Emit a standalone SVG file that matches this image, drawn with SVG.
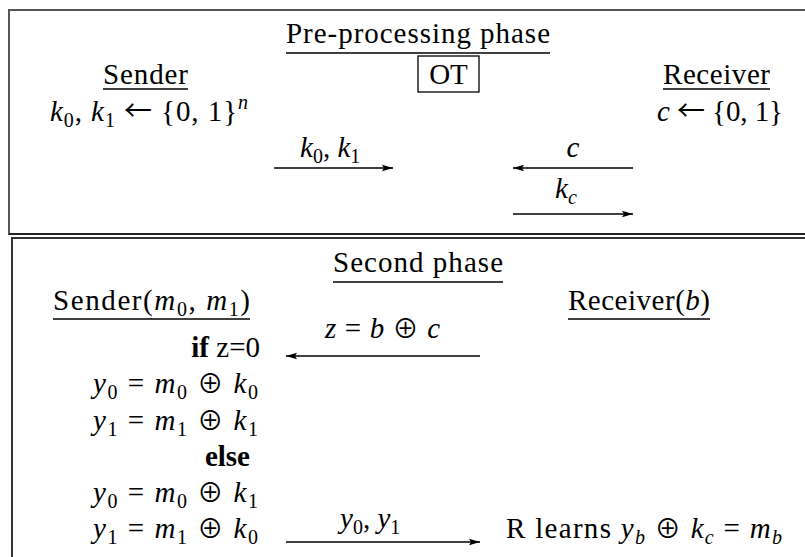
<svg xmlns="http://www.w3.org/2000/svg" width="805" height="557" viewBox="0 0 805 557">
<defs>
<style>
text{font-size:29px;fill:#000}
.i{font-style:italic}
.s{font-size:20px}
.b{font-weight:bold}
.o{font-size:26px;font-family:Noto Sans CJK JP,DejaVu Serif,serif}
.ar{font-size:28px;font-family:Noto Sans CJK JP,DejaVu Serif,serif}
.ln{stroke:#000;stroke-width:1.4;fill:none}
.ul{stroke:#000;stroke-width:1.3}
.box{fill:none;stroke:#555;stroke-width:2}
</style>
<marker id="ah" markerUnits="userSpaceOnUse" markerWidth="12" markerHeight="8" refX="11" refY="4" orient="auto">
<path d="M0,0.8 L11,4 L0,7.2 L2,4 Z" fill="#000"/>
</marker>
</defs>
<rect width="805" height="557" fill="#fff"/>
<g font-family="Liberation Serif, DejaVu Serif, serif">
<g id="pre-phase">
<rect class="box" x="9" y="10" width="820" height="224"/>
<line x1="9" y1="234" x2="834" y2="234" stroke="#222" stroke-width="2"/>
<text x="286" y="43" textLength="264">Pre-processing phase</text>
<line class="ul" x1="286" y1="53" x2="550" y2="53"/>
</g>
<g id="ot">
<rect x="418" y="56" width="61" height="36" fill="none" stroke="#000" stroke-width="1.3"/>
<text x="448.5" y="84" text-anchor="middle">OT</text>
</g>
<g id="sender1">
<text x="103" y="84" textLength="85">Sender</text>
<line class="ul" x1="103" y1="89" x2="188" y2="89"/>
<text x="50" y="121" textLength="198"><tspan class="i">k</tspan><tspan class="s" dy="6">0</tspan><tspan dy="-6">, </tspan><tspan class="i">k</tspan><tspan class="s" dy="6">1</tspan><tspan dy="-6"> </tspan><tspan class="ar">←</tspan> {0, 1}<tspan class="s i" dy="-12">n</tspan></text>
</g>
<g id="receiver1">
<text x="663" y="84" textLength="107">Receiver</text>
<line class="ul" x1="663" y1="89" x2="770" y2="89"/>
<text x="657" y="121" textLength="126"><tspan class="i">c</tspan> <tspan class="ar">←</tspan> {0, 1}</text>
</g>
<g id="second-phase">
<rect x="12" y="238" width="820" height="340" fill="none" stroke="#333" stroke-width="2"/>
<text x="333" y="272" textLength="170">Second phase</text>
<line class="ul" x1="333" y1="282" x2="503" y2="282"/>
</g>
<g id="sender2">
<text x="53" y="310" textLength="197">Sender(<tspan class="i">m</tspan><tspan class="s" dy="6">0</tspan><tspan dy="-6">, </tspan><tspan class="i">m</tspan><tspan class="s" dy="6">1</tspan><tspan dy="-6">)</tspan></text>
<line class="ul" x1="53" y1="319" x2="250" y2="319"/>
<text x="260" y="357" text-anchor="end"><tspan class="b">if</tspan> z=0</text>
<text x="93" y="393" textLength="165"><tspan class="i">y</tspan><tspan class="s" dy="6">0</tspan><tspan dy="-6"> = </tspan><tspan class="i">m</tspan><tspan class="s" dy="6">0</tspan><tspan dy="-6"> </tspan><tspan class="o">⊕</tspan> <tspan class="i">k</tspan><tspan class="s" dy="6">0</tspan></text>
<text x="93" y="430" textLength="165"><tspan class="i">y</tspan><tspan class="s" dy="6">1</tspan><tspan dy="-6"> = </tspan><tspan class="i">m</tspan><tspan class="s" dy="6">1</tspan><tspan dy="-6"> </tspan><tspan class="o">⊕</tspan> <tspan class="i">k</tspan><tspan class="s" dy="6">1</tspan></text>
<text class="b" x="250" y="466" text-anchor="end">else</text>
<text x="93" y="502" textLength="165"><tspan class="i">y</tspan><tspan class="s" dy="6">0</tspan><tspan dy="-6"> = </tspan><tspan class="i">m</tspan><tspan class="s" dy="6">0</tspan><tspan dy="-6"> </tspan><tspan class="o">⊕</tspan> <tspan class="i">k</tspan><tspan class="s" dy="6">1</tspan></text>
<text x="93" y="538" textLength="165"><tspan class="i">y</tspan><tspan class="s" dy="6">1</tspan><tspan dy="-6"> = </tspan><tspan class="i">m</tspan><tspan class="s" dy="6">1</tspan><tspan dy="-6"> </tspan><tspan class="o">⊕</tspan> <tspan class="i">k</tspan><tspan class="s" dy="6">0</tspan></text>
</g>
<g id="receiver2">
<text x="568" y="310" textLength="142">Receiver(<tspan class="i">b</tspan>)</text>
<line class="ul" x1="568" y1="319" x2="710" y2="319"/>
<text x="506" y="538" textLength="276">R learns <tspan class="i">y</tspan><tspan class="s i" dy="6">b</tspan><tspan dy="-6"> </tspan><tspan class="o">⊕</tspan> <tspan class="i">k</tspan><tspan class="s i" dy="6">c</tspan><tspan dy="-6"> = </tspan><tspan class="i">m</tspan><tspan class="s i" dy="6">b</tspan></text>
</g>
<g id="connectors">
<line class="ln" x1="274" y1="168" x2="393" y2="168" marker-end="url(#ah)"/>
<line class="ln" x1="633" y1="168" x2="513" y2="168" marker-end="url(#ah)"/>
<line class="ln" x1="513" y1="214" x2="633" y2="214" marker-end="url(#ah)"/>
<line class="ln" x1="480" y1="356" x2="286" y2="356" marker-end="url(#ah)"/>
<line class="ln" x1="286" y1="542" x2="480" y2="542" marker-end="url(#ah)"/>
<text x="300" y="157"><tspan class="i">k</tspan><tspan class="s" dy="6">0</tspan><tspan dy="-6">, </tspan><tspan class="i">k</tspan><tspan class="s" dy="6">1</tspan></text>
<text class="i" x="573" y="157" text-anchor="middle">c</text>
<text x="555" y="198"><tspan class="i">k</tspan><tspan class="s i" dy="6">c</tspan></text>
<text x="325" y="338" textLength="115"><tspan class="i">z</tspan> = <tspan class="i">b</tspan> <tspan class="o">⊕</tspan> <tspan class="i">c</tspan></text>
<text x="340" y="528"><tspan class="i">y</tspan><tspan class="s" dy="6">0</tspan><tspan dy="-6">, </tspan><tspan class="i">y</tspan><tspan class="s" dy="6">1</tspan></text>
</g>
</g>
</svg>
